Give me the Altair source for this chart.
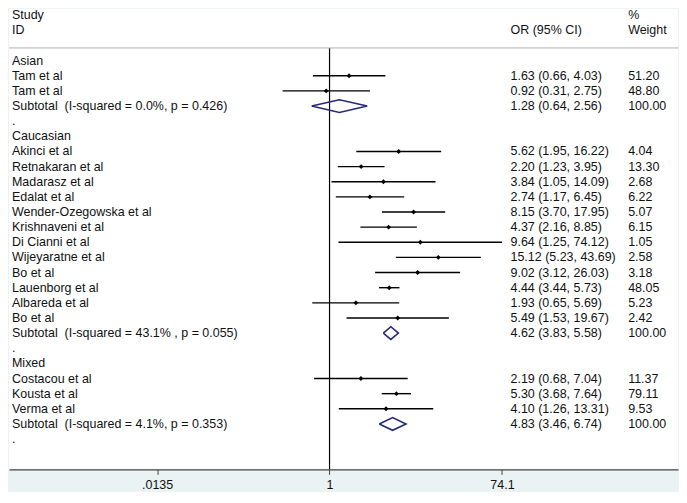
import altair as alt
import pandas as pd

# ---- data ----
labels = ["Asian", "Tam et al", "Tam et al", "Subtotal\u00a0\u00a0(I-squared = 0.0%, p = 0.426)", ".",
          "Caucasian", "Akinci et al", "Retnakaran et al", "Madarasz et al", "Edalat et al",
          "Wender-Ozegowska et al", "Krishnaveni et al", "Di Cianni et al", "Wijeyaratne et al",
          "Bo et al", "Lauenborg et al", "Albareda et al", "Bo et al",
          "Subtotal\u00a0\u00a0(I-squared = 43.1% , p = 0.055)", ".",
          "Mixed", "Costacou et al", "Kousta et al", "Verma et al",
          "Subtotal\u00a0\u00a0(I-squared = 4.1%, p = 0.353)", "."]
kinds = ["group", "study", "study", "sub", "blank",
         "group", "study", "study", "study", "study", "study", "study", "study", "study",
         "study", "study", "study", "study", "sub", "blank",
         "group", "study", "study", "study", "sub", "blank"]
ors = [None, 1.63, 0.92, 1.28, None,
       None, 5.62, 2.20, 3.84, 2.74, 8.15, 4.37, 9.64, 15.12, 9.02, 4.44, 1.93, 5.49, 4.62, None,
       None, 2.19, 5.30, 4.10, 4.83, None]
lcis = [None, 0.66, 0.31, 0.64, None,
        None, 1.95, 1.23, 1.05, 1.17, 3.70, 2.16, 1.25, 5.23, 3.12, 3.44, 0.65, 1.53, 3.83, None,
        None, 0.68, 3.68, 1.26, 3.46, None]
ucis = [None, 4.03, 2.75, 2.56, None,
        None, 16.22, 3.95, 14.09, 6.45, 17.95, 8.85, 74.12, 43.69, 26.03, 5.73, 5.69, 19.67, 5.58, None,
        None, 7.04, 7.64, 13.31, 6.74, None]
weights = [None, 51.20, 48.80, 100.00, None,
           None, 4.04, 13.30, 2.68, 6.22, 5.07, 6.15, 1.05, 2.58, 3.18, 48.05, 5.23, 2.42, 100.00, None,
           None, 11.37, 79.11, 9.53, 100.00, None]
tick_values = [0.0135, 1, 74.1]
header_left = ["Study", "ID"]
header_or = ["OR (95% CI)"]
header_wt = ["%", "Weight"]

# ---- tables ----
rows = pd.DataFrame({"row": range(len(labels)), "label": labels, "kind": kinds,
                     "or": ors, "lci": lcis, "uci": ucis, "w": weights})
est = rows.dropna(subset=["or"]).copy()
est["ortext"] = est.apply(lambda r: f"{r['or']:.2f} ({r['lci']:.2f}, {r['uci']:.2f})", axis=1)
est["wtext"] = est["w"].map(lambda v: f"{v:.2f}")
studies = est[est["kind"] == "study"]
subs = est[est["kind"] == "sub"]

dh = 0.42
diam = []
for _, r in subs.iterrows():
    pts = [(r["lci"], r["row"]), (r["or"], r["row"] - dh), (r["uci"], r["row"]),
           (r["or"], r["row"] + dh), (r["lci"], r["row"])]
    for k, (xv, yv) in enumerate(pts):
        diam.append({"g": int(r["row"]), "k": k, "x": xv, "y": yv})
diam = pd.DataFrame(diam)

left_hdr = pd.DataFrame({"row": [-3, -2], "label": header_left})
or_hdr = pd.DataFrame({"row": [-2], "label": header_or})
wt_hdr = pd.DataFrame({"row": [-3, -2], "label": header_wt})
left_all = pd.concat([left_hdr, rows[["row", "label"]]])
sep = pd.DataFrame({"y": [-0.84]})
vline = pd.DataFrame({"x": [1.0], "y": [-0.84], "y2": [27.0]})

# ---- scales ----
W, H = 671, 462
px_dec = 92.5
x_one = 321.5
xscale = alt.Scale(type="log", domain=[10 ** (-x_one / px_dec), 10 ** ((W - x_one) / px_dec)], nice=False)
yscale = alt.Scale(domain=[-3.43, 27], reverse=True, nice=False, zero=False)
FONT = "Liberation Sans"
FS = 12.5
TXT = "#111111"

xaxis = alt.Axis(values=tick_values, title=None, grid=False,
                 labelExpr="replace(format(datum.value, '~r'), regexp('^0'), '')",
                 domainColor="#444444", tickColor="#444444", tickSize=5, domainWidth=1.2,
                 labelFont=FONT, labelFontSize=FS, labelColor=TXT, labelPadding=4,
                 labelFlush=False, labelOverlap=False)


def X(f):
    return alt.X(f, type="quantitative", scale=xscale, axis=xaxis)


def Y(f):
    return alt.Y(f, type="quantitative", scale=yscale, axis=None)


sep_l = alt.Chart(sep).mark_rule(color="#b0b0b0", strokeWidth=1).encode(
    y=Y("y"), x=alt.value(0), x2=alt.value(W))
vline_l = alt.Chart(vline).mark_rule(color="#000000", strokeWidth=1.2).encode(
    x=X("x"), y=Y("y"), y2="y2")
ci_l = alt.Chart(studies).mark_rule(color="#000000", strokeWidth=1.4).encode(
    x=X("lci"), x2="uci", y=Y("row"))
pt_l = alt.Chart(studies).mark_point(shape="diamond", filled=True, size=24, color="#000000", opacity=1).encode(
    x=X("or"), y=Y("row"))
dia_l = alt.Chart(diam).mark_line(color="#26287a", strokeWidth=1.6).encode(
    x=X("x"), y=Y("y"), detail="g:N", order="k:Q")

txt = dict(font=FONT, fontSize=FS, color=TXT, align="left", baseline="middle")
left_l = alt.Chart(left_all).mark_text(**txt).encode(x=alt.value(3), y=Y("row"), text="label:N")
orh_l = alt.Chart(or_hdr).mark_text(**txt).encode(x=alt.value(503), y=Y("row"), text="label:N")
wth_l = alt.Chart(wt_hdr).mark_text(**txt).encode(x=alt.value(621), y=Y("row"), text="label:N")
ort_l = alt.Chart(est).mark_text(**txt).encode(x=alt.value(503), y=Y("row"), text="ortext:N")
wtt_l = alt.Chart(est).mark_text(**txt).encode(x=alt.value(621), y=Y("row"), text="wtext:N")

chart = alt.layer(vline_l, sep_l, ci_l, pt_l, dia_l, left_l, orh_l, wth_l, ort_l, wtt_l).properties(
    width=W, height=H, padding=0, background="#EAF2F3"
).configure_view(stroke=None, fill="white")

chart.save("out.html", embed_options={"renderer": "svg", "actions": False})
